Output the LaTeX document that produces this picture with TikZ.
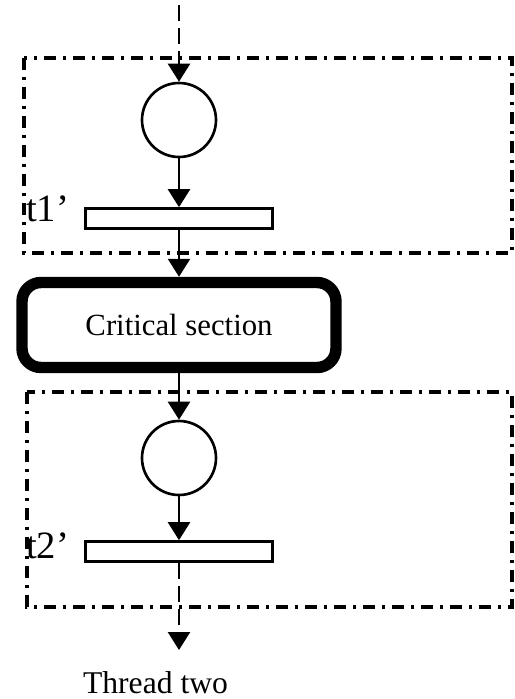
\documentclass[tikz,border=0pt]{standalone}
\usepackage{fontspec}
\setmainfont{Liberation Serif}
\usetikzlibrary{arrows.meta}

\tikzset{
	place/.style={draw,circle,line width=1.5pt,minimum size=1.48cm,inner sep=0pt},
	trans/.style={draw,rectangle,line width=1.5pt,minimum width=3.74cm,minimum height=0.4cm,inner sep=0pt},
	region/.style={line width=1.8pt,dash pattern=on 0.24cm off 0.14cm on 0.06cm off 0.14cm},
	flow/.style={line width=1.4pt,-{Triangle[width=0.44cm,length=0.36cm]}},
	tlabel/.style={anchor=base,inner sep=0pt,font=\fontsize{22}{24}\selectfont},
}

\begin{document}
\begin{tikzpicture}
	\useasboundingbox (0,0) rectangle (10.28,-13.98);
	
	%THREAD REGIONS
	\draw[region] (0.48,-1.16) rectangle (10.24,-5.06);
	\draw[region] (0.54,-7.84) rectangle (10.24,-12.14);
	
	%NET
	\coordinate (in) at (3.58,-0.1);
	\node[place] (p1) at (3.58,-2.40) {};
	\node[trans] (t1) at (3.58,-4.37) {};
	\node[draw,line width=6.5pt,rounded corners=0.38cm,minimum width=6.28cm,minimum height=1.7cm,font=\fontsize{17.5}{20}\selectfont] (cs) at (3.58,-6.5) {Critical section};
	\node[place] (p2) at (3.58,-9.16) {};
	\node[trans] (t2) at (3.58,-11.03) {};
	\coordinate (out) at (3.58,-13.0);
	
	%ARCS
	\draw[flow,dash pattern=on 0.32cm off 0.14cm] (in)--(p1);
	\draw[flow] (p1)--(t1);
	\draw[flow] (t1)--(cs);
	\draw[flow] (cs)--(p2);
	\draw[flow] (p2)--(t2);
	\draw[flow,dash pattern=on 0.32cm off 0.14cm] (t2)--(out);
	
	%LABELS
	\node[tlabel] (l1) at (0.95,-4.44) {t1’};
	\node[tlabel] (l2) at (0.95,-11.16) {t2’};
	\node[anchor=base,inner sep=0pt,font=\fontsize{18}{20}\selectfont] (thr) at (3.11,-13.86) {Thread two};
\end{tikzpicture}
\end{document}
